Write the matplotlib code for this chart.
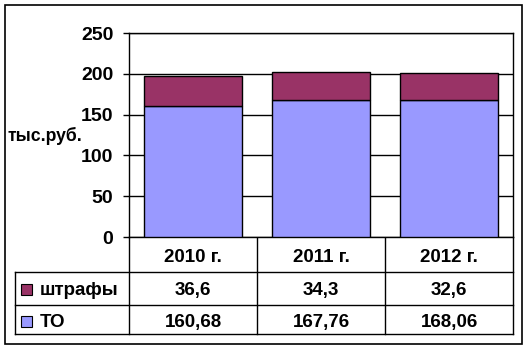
import matplotlib
matplotlib.use("Agg")
import matplotlib.pyplot as plt
from matplotlib.patches import Rectangle
from matplotlib.transforms import blended_transform_factory

categories = ["2010 г.", "2011 г.", "2012 г."]
to_values = [160.68, 167.76, 168.06]
fines_values = [36.6, 34.3, 32.6]
series_names = ["штрафы", "ТО"]
y_ticks = [0, 50, 100, 150, 200, 250]
unit_label = "тыс.руб."

C_FINES = "#993366"
C_TO = "#9999FF"

plt.rcParams['font.family'] = ['Liberation Sans', 'DejaVu Sans']
plt.rcParams['font.weight'] = 'bold'

W, H = 529, 351
fig = plt.figure(figsize=(W / 100, H / 100), dpi=100)

def px_axes(x0, y0, x1, y1):
    return [x0 / W, 1 - y1 / H, (x1 - x0) / W, (y1 - y0) / H]

# overlay in pixel coordinates
ov = fig.add_axes([0, 0, 1, 1])
ov.set_xlim(0, W)
ov.set_ylim(H, 0)
ov.axis('off')

ax = fig.add_axes(px_axes(129, 33, 513, 237))
x = list(range(len(categories)))
ax.bar(x, to_values, width=0.77, color=C_TO, edgecolor='black', linewidth=1, zorder=3)
ax.bar(x, fines_values, bottom=to_values, width=0.77, color=C_FINES,
       edgecolor='black', linewidth=1, zorder=3)
ax.set_xlim(-0.5, len(categories) - 0.5)
ax.set_ylim(0, 250)
ax.set_yticks(y_ticks)
ax.set_yticklabels([str(v) for v in y_ticks], fontsize=14, fontweight='bold')
ax.tick_params(axis='y', direction='out', length=4.3, width=1, pad=7, colors='black')
ax.tick_params(axis='x', bottom=False, labelbottom=False)
ax.grid(axis='y', color='black', linewidth=1, zorder=0)
for s in ax.spines.values():
    s.set_color('black')
    s.set_linewidth(1)

fig.text(7 / W, 1 - 136 / H, unit_label, fontsize=12.7, fontweight='bold',
         ha='left', va='center')

# data table
tr = blended_transform_factory(ax.transData, ov.transData)
n = len(categories)
row_top, row1, row2, row_bot = 237, 272, 305, 334
for b in [i - 0.5 for i in range(n + 1)]:
    ov.plot([b, b], [row_top, row_bot], color='black', lw=1, transform=tr, clip_on=False)
for yy in (row1, row2, row_bot):
    ov.plot([15, 513], [yy, yy], color='black', lw=1, clip_on=False)
ov.plot([15, 15], [row1, row_bot], color='black', lw=1, clip_on=False)

fs = 13.5
fmt = lambda v: (f"{v:g}").replace('.', ',')
for i, c in enumerate(categories):
    ov.text(i, 262, c, transform=tr, ha='center', va='baseline', fontsize=fs, fontweight='bold')
    ov.text(i, 295, fmt(fines_values[i]), transform=tr, ha='center', va='baseline',
            fontsize=fs, fontweight='bold')
    ov.text(i, 327, fmt(to_values[i]), transform=tr, ha='center', va='baseline',
            fontsize=fs, fontweight='bold')

for (name, col, yb) in [(series_names[0], C_FINES, 295), (series_names[1], C_TO, 327)]:
    ov.add_patch(Rectangle((21, yb - 11), 11, 11, facecolor=col, edgecolor='black', lw=0.8))
    ov.text(40, yb, name, ha='left', va='baseline', fontsize=fs, fontweight='bold')

# outer frame
ov.add_patch(Rectangle((5, 5), 517, 339, fill=False, edgecolor='black', lw=1.2, clip_on=False))

fig.savefig("out.png", dpi=100)
